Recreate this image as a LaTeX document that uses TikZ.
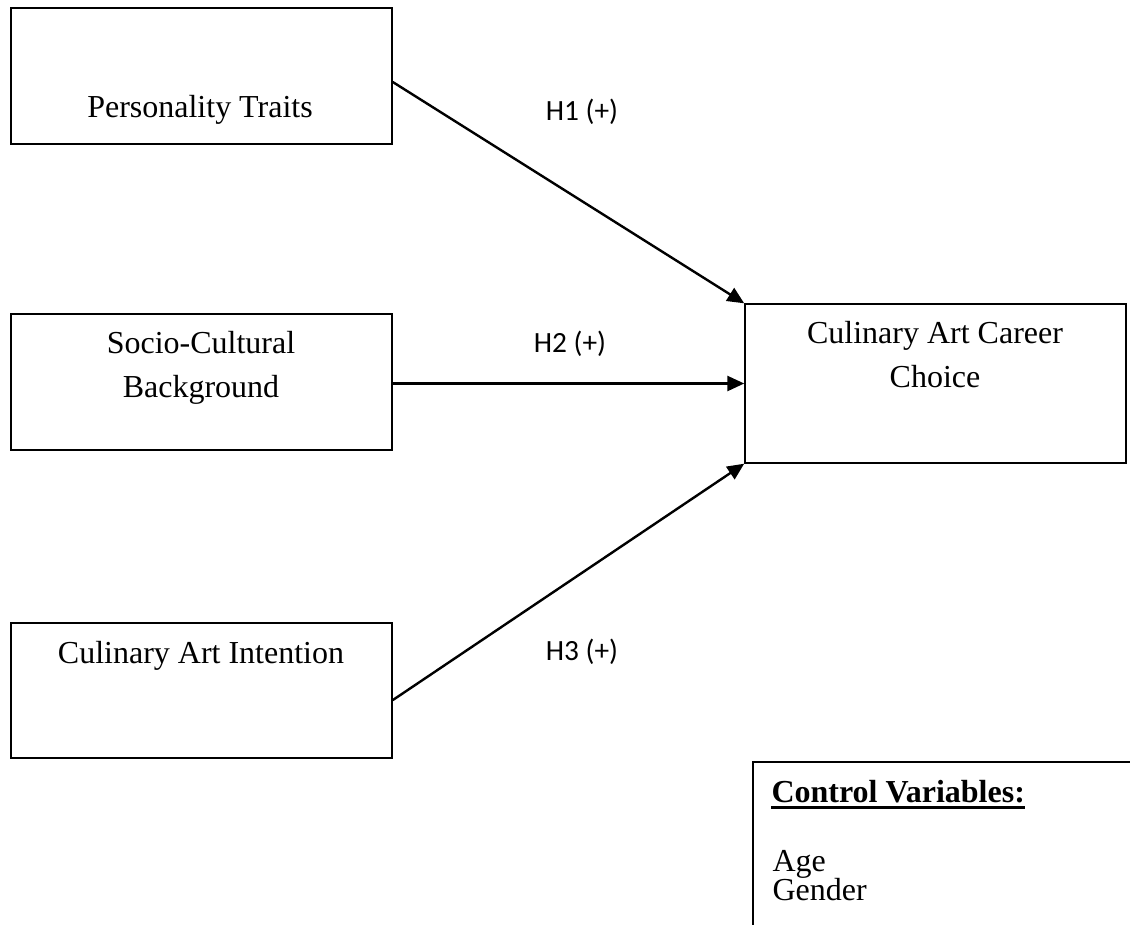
\documentclass[tikz,border=0pt]{standalone}
\usepackage{fontspec}
\setmainfont{Liberation Serif}
\newfontfamily\hypfont{Carlito}
\usetikzlibrary{arrows.meta}

\tikzset{
  box/.style={draw, line width=0.55pt, minimum width=142.9pt, inner sep=0pt},
  boxtext/.style={font=\fontsize{12}{16.5}\selectfont, align=center, inner sep=0pt},
  hyp/.style={font=\hypfont\fontsize{11}{13}\selectfont, inner sep=0pt},
  link/.style={line width=0.9pt, -{Triangle[length=6.3pt,width=5.6pt]}},
  ctrltext/.style={font=\fontsize{12}{14}\selectfont, anchor=base west, inner sep=0pt}
}

\begin{document}
\begin{tikzpicture}[x=0.375pt, y=-0.375pt]
		%%%%% START %%%%%
		\useasboundingbox (0,0) rectangle (1130,925);
		
		% predictors
		\node[box, minimum height=51pt] (traits) at (201.5,76) {};
		\node[boxtext, anchor=base] (traitslbl) at (200,117) {Personality Traits};
		
		\node[box, minimum height=51pt] (socio) at (201.5,382) {};
		\node[boxtext, anchor=base] (sociolbl) at (201,397) {Socio-Cultural\\Background};
		
		\node[box, minimum height=50.6pt] (intent) at (201.5,690.5) {};
		\node[boxtext, anchor=base] (intentlbl) at (201,663) {Culinary Art Intention};
		
		% outcome
		\node[box, minimum height=59.6pt] (career) at (935.5,383.5) {};
		\node[boxtext, anchor=base] (careerlbl) at (935,387) {Culinary Art Career\\Choice};
		
		% hypotheses
		\draw[link] ([yshift=-2.25pt]traits.east) -- (career.north west);
		\draw[link] (socio.east |- career.west) -- (career.west);
		\draw[link] ([yshift=-3.6pt]intent.east) -- (career.south west);
		
		\node[hyp] (h1) at (582,112) {H1 (+)};
		\node[hyp] (h2) at (570,344) {H2 (+)};
		\node[hyp] (h3) at (582,652) {H3 (+)};
		
		% control variables, cut off at the page edge
		\begin{scope}
			\clip (0,0) rectangle (1130,925);
			\node[draw, line width=0.75pt, anchor=north west, inner sep=0pt,
			      minimum width=150pt, minimum height=67.5pt] (ctrl) at (752,761) {};
		\end{scope}
		\node[ctrltext, font=\fontsize{12}{14}\selectfont\bfseries] (ctrltitle) at (771,802) {Control Variables:};
		\draw[line width=1.1pt] ([yshift=-2pt]ctrltitle.base west) -- ([yshift=-2pt]ctrltitle.base east);
		\node[ctrltext] (age) at (772,871) {Age};
		\node[ctrltext] (gender) at (772,900) {Gender};
		
		%%%%% END %%%%%
\end{tikzpicture}
\end{document}
